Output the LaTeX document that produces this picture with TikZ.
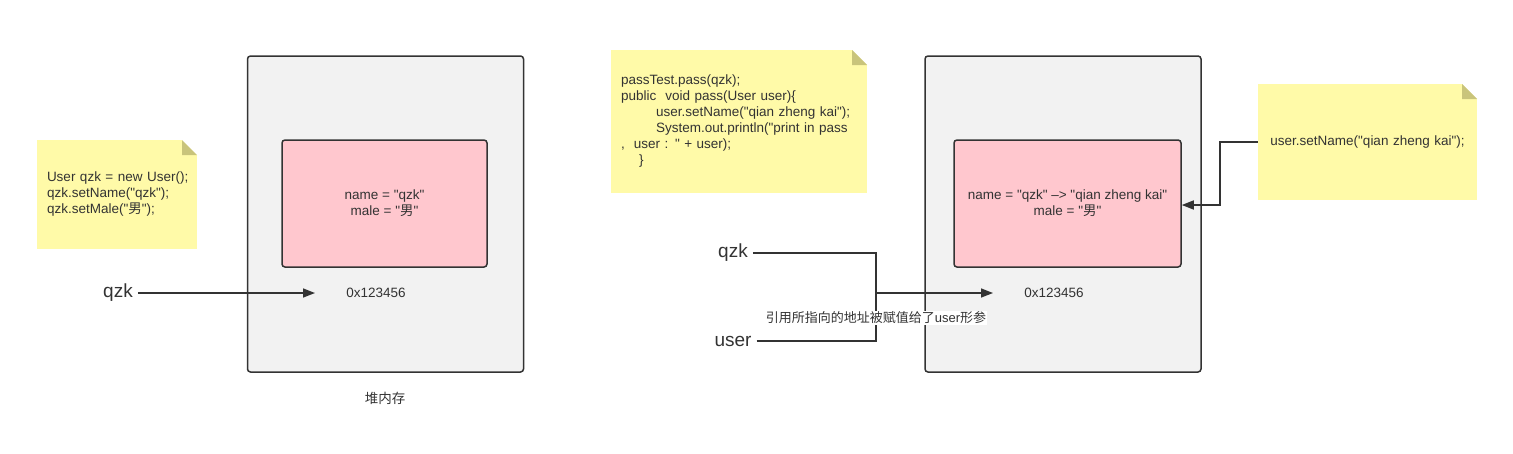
\documentclass[tikz,border=0pt]{standalone}
\usepackage{fontspec}
\setmainfont{Liberation Sans}[Ligatures=TeXOff]
\newfontfamily\cjk{Noto Sans CJK SC}
\usepackage{xcolor}
\usepackage{tikz}
\usetikzlibrary{arrows.meta, positioning, calc}
\definecolor{linegray}{HTML}{333333}
\definecolor{heapgray}{HTML}{F2F2F2}
\definecolor{objpink}{HTML}{FFC7CE}
\definecolor{noteyellow}{HTML}{FFFAA8}
\definecolor{notefold}{HTML}{C9C47B}
\tikzstyle{heapbox} = [rectangle, rounded corners=3pt, draw=linegray, fill=heapgray, line width=1.5pt,
  minimum width=276pt, minimum height=316pt]
\tikzstyle{objbox} = [rectangle, rounded corners=3pt, draw=linegray, fill=objpink, line width=1.5pt,
  minimum height=127pt, align=center, font=\fontsize{13.5}{16}\selectfont, text=linegray]
\tikzstyle{notebox} = [rectangle, fill=noteyellow, inner xsep=10pt, inner ysep=0pt, align=left,
  font=\fontsize{13.5}{16}\selectfont, text=linegray,
  path picture={
    \fill[white] ($(path picture bounding box.north east)+(-15pt,0pt)$) -- (path picture bounding box.north east) -- ++(0pt,-15pt) -- cycle;
    \fill[notefold] ($(path picture bounding box.north east)+(-15pt,0pt)$) -- ++(0pt,-15pt) -- ++(15pt,0pt) -- cycle;
  }]
\tikzstyle{varlabel} = [font=\fontsize{19}{22}\selectfont, text=linegray, inner sep=5pt]
\tikzstyle{plain} = [font=\fontsize{13.5}{16}\selectfont, text=linegray]
\tikzstyle{wire} = [line width=1.5pt, draw=linegray]
\tikzstyle{arrow} = [wire, -{Triangle[length=12pt, width=9pt]}]

\begin{document}
\begin{tikzpicture}[x=1pt, y=-1pt]
  \useasboundingbox (0,0) rectangle (1513,453);

  % heap, before the call
  \node (heapL) [heapbox] at (385.5,214) {};
  \node (objL)  [objbox, minimum width=205pt] at (384.5,203.5) {name = "qzk"\\male = "{\cjk 男}"};
  \node (addrL) [plain] at (376,293) {0x123456};
  \node (heapT) [plain] at (385,398) {\cjk 堆内存};
  \node (noteL) [notebox, text width=140pt, minimum height=109pt] at (117,194.5)
    {\mbox{User qzk = new User();}\\qzk.setName("qzk");\\qzk.setMale("{\cjk 男}");};
  \node (qzkL)  [varlabel] at (118,293) {qzk};
  \coordinate (tipL) at (315,293);
  \draw[arrow] (qzkL.east) -- (tipL);

  % heap, inside pass()
  \node (heapR) [heapbox] at (1063,214) {};
  \node (objR)  [objbox, minimum width=227pt] at (1067.5,203.5)
    {name = "qzk" –> "qian zheng kai"\\male = "{\cjk 男}"};
  \node (addrR) [plain] at (1054,293) {0x123456};
  \node (noteM) [notebox, text width=236pt, minimum height=143pt] at (739,121.5)
    {passTest.pass(qzk);\\
     public\ \ void pass(User user)\{\\
     \hspace*{35pt}user.setName("qian zheng kai");\\
     \hspace*{35pt}System.out.println("print in pass\\
     ,\ \ user : " + user);\\
     \hspace*{18pt}\}};
  \node (noteR) [notebox, text width=199pt, minimum height=116pt, align=center] at (1367.5,142)
    {user.setName("qian zheng kai");};
  \draw[arrow] (noteR.west) -- ++(-38,0) |- ([yshift=-1.5pt]objR.east);

  \node (qzkR)  [varlabel] at (733,253) {qzk};
  \node (userR) [varlabel] at (733,341) {user};
  \coordinate (join) at (876,293);
  \coordinate (tipR) at (993,293);
  \draw[wire] (qzkR.east) -| (join);
  \draw[wire] (userR.east) -| (join);
  \draw[arrow] (join) -- (tipR);
  \node (passT) [plain, fill=white, inner sep=1pt, font=\fontsize{13}{16}\selectfont] at (876,318)
    {{\cjk 引用所指向的地址被赋值给了}user{\cjk 形参}};
\end{tikzpicture}
\end{document}
